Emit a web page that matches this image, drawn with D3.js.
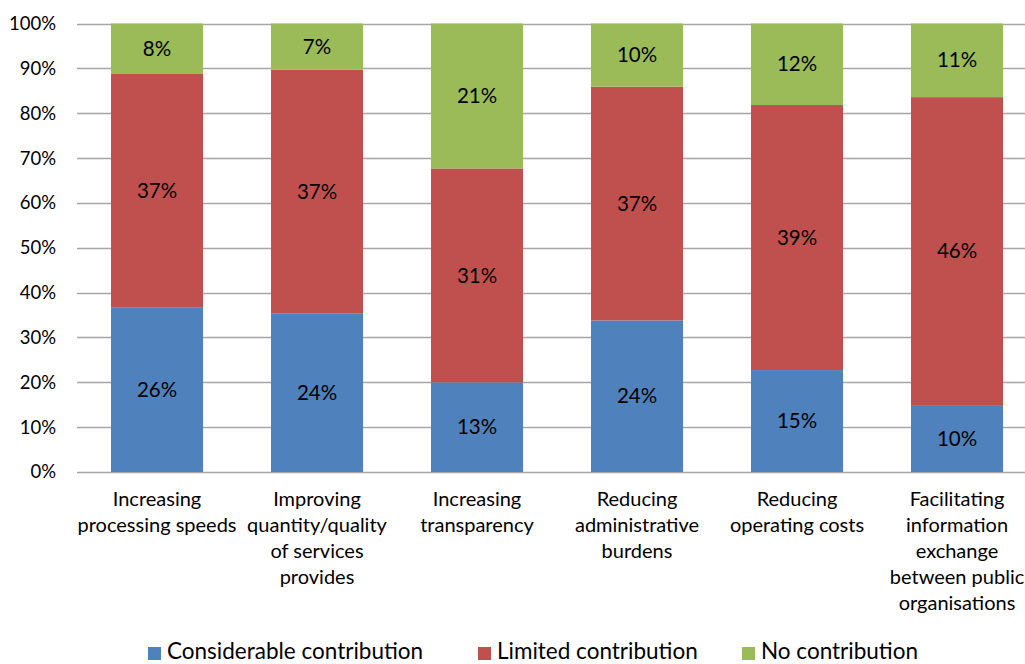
<!DOCTYPE html>
<html><head><meta charset="utf-8">
<script src="https://cdn.jsdelivr.net/npm/d3@7"></script>
<style>html,body{margin:0;padding:0;background:#fff;} svg{display:block;font-family:Lato, "Open Sans", sans-serif;}</style>
</head><body>
<svg id="chart" width="1025" height="664"></svg>
<script>
const categories = [
  ["Increasing", "processing speeds"],
  ["Improving", "quantity/quality", "of services", "provides"],
  ["Increasing", "transparency"],
  ["Reducing", "administrative", "burdens"],
  ["Reducing", "operating costs"],
  ["Facilitating", "information", "exchange", "between public", "organisations"]
];
const seriesNames = ["Considerable contribution", "Limited contribution", "No contribution"];
const considerable = [26, 24, 13, 24, 15, 10];
const limited = [37, 37, 31, 37, 39, 46];
const noContribution = [8, 7, 21, 10, 12, 11];
const colors = ["#4F81BD", "#C0504D", "#9BBB59"];
const yTicks = [0, 0.1, 0.2, 0.3, 0.4, 0.5, 0.6, 0.7, 0.8, 0.9, 1.0];

const svg = d3.select("#chart");
const x = d3.scaleBand().domain(d3.range(categories.length)).range([77, 1037]).paddingInner(0.425).paddingOuter(0.2125);
const y = d3.scaleLinear().domain([0, 1]).range([472, 23.5]);

// gridlines
svg.append("g").selectAll("line").data(yTicks).join("line")
  .attr("x1", 77).attr("x2", 1037)
  .attr("y1", d => Math.round(y(d)) + 0.5).attr("y2", d => Math.round(y(d)) + 0.5)
  .attr("stroke", "#A6A6A6").attr("stroke-width", 1.3);

// y tick labels
svg.append("g").selectAll("text").data(yTicks).join("text")
  .attr("x", 56).attr("y", d => y(d)).attr("dy", "0.35em")
  .attr("text-anchor", "end").attr("font-size", 18.5).attr("fill", "#000")
  .text(d => d3.format(".0%")(d));

const raw = [considerable, limited, noContribution];
const rows = categories.map((c, i) => {
  const tot = raw[0][i] + raw[1][i] + raw[2][i];
  let acc = 0;
  return raw.map((s, k) => {
    const seg = {i, k, v: s[i], y0: acc / tot, y1: (acc + s[i]) / tot};
    acc += s[i];
    return seg;
  });
}).flat();

svg.append("g").selectAll("rect").data(rows).join("rect")
  .attr("x", d => x(d.i)).attr("width", x.bandwidth())
  .attr("y", d => y(d.y1)).attr("height", d => y(d.y0) - y(d.y1))
  .attr("fill", d => colors[d.k]);

svg.append("g").selectAll("text").data(rows).join("text")
  .attr("x", d => x(d.i) + x.bandwidth() / 2)
  .attr("y", d => (y(d.y0) + y(d.y1)) / 2).attr("dy", "0.35em")
  .attr("text-anchor", "middle").attr("font-size", 20.5).attr("fill", "#000")
  .text(d => d.v + "%");

// category labels
const cat = svg.append("g").selectAll("text").data(categories).join("text")
  .attr("text-anchor", "middle").attr("font-size", 20).attr("fill", "#000");
cat.each(function(lines, i) {
  d3.select(this).selectAll("tspan").data(lines).join("tspan")
    .attr("x", x(i) + x.bandwidth() / 2)
    .attr("y", (d, j) => 506 + j * 26)
    .text(d => d);
});

// legend
const legX = [148, 478, 742];
const leg = svg.append("g").selectAll("g").data(seriesNames).join("g")
  .attr("transform", (d, i) => `translate(${legX[i]},0)`);
leg.append("rect").attr("x", 0).attr("y", 647).attr("width", 13).attr("height", 13)
  .attr("fill", (d, i) => colors[i]);
leg.append("text").attr("x", 19).attr("y", 659).attr("font-size", 22.5).attr("fill", "#000")
  .text(d => d);
</script>
</body></html>
